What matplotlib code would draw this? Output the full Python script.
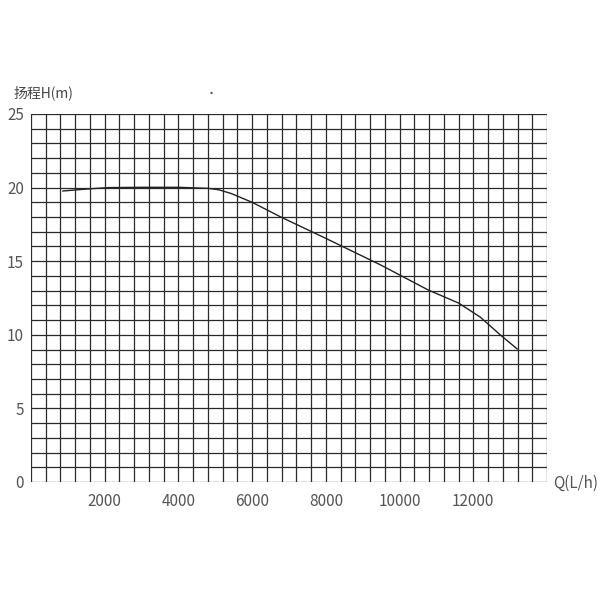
import matplotlib
matplotlib.use("Agg")
import matplotlib.pyplot as plt
import numpy as np

plt.rcParams['font.family'] = ['Noto Sans CJK SC', 'DejaVu Sans']

# Data
flow_q = [865, 1500, 2100, 3000, 4000, 4800, 5100, 5430, 6000, 6780, 8000, 9490, 10780, 11600, 12190, 12730, 13190]
head_h = [19.77, 19.9, 20.0, 20.02, 20.02, 19.95, 19.85, 19.6, 19.0, 18.0, 16.55, 14.74, 13.04, 12.16, 11.2, 10.0, 9.04]
x_ticks = [2000, 4000, 6000, 8000, 10000, 12000]
y_ticks = [0, 5, 10, 15, 20, 25]

fig = plt.figure(figsize=(6, 6), dpi=100)
ax = fig.add_axes([31/600, 118/600, 516/600, 368/600])
ax.set_xlim(0, 14000)
ax.set_ylim(0, 25)

for x in np.arange(0, 14001, 400):
    ax.axvline(x, color='#2a2a2a', lw=0.9, zorder=1)
for y in np.arange(0, 26, 1):
    ax.axhline(y, color='#2a2a2a', lw=0.9, zorder=1)

ax.plot(flow_q, head_h, color='#222222', lw=1.0, zorder=3)

for s in ax.spines.values():
    s.set_visible(False)
ax.set_xticks(x_ticks)
ax.set_xticklabels([str(v) for v in x_ticks])
ax.set_yticks(y_ticks)
ax.set_yticklabels([str(v) for v in y_ticks])
ax.tick_params(length=0, colors='#555555', labelsize=11, pad=6)
ax.tick_params(axis='x', pad=8)
ax.tick_params(axis='y', pad=5)

fig.text(13/600, 1 - 93/600, '扬程H(m)', fontsize=10, color='#444444', va='center', ha='left')
fig.text(553/600, 1 - 483/600, 'Q(L/h)', fontsize=11, color='#555555', va='center', ha='left')
fig.text(211/600, 1 - 94/600, '·', fontsize=8, color='#444444', va='center', ha='center')

fig.savefig('out.png', dpi=100, facecolor='white')
